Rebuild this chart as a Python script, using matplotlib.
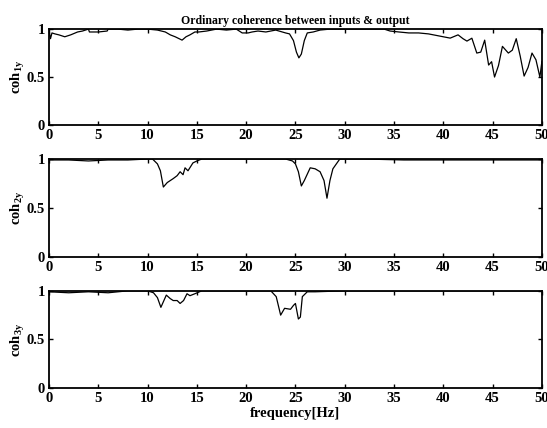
import matplotlib
matplotlib.use("Agg")
import matplotlib.pyplot as plt

# coherence readings (frequency in Hz, coherence)
f1 = [0, 0.15, 0.3, 0.6, 1.0, 1.6, 2.2, 2.9, 3.4, 4.0, 4.1, 5.0, 5.9, 6.0, 7.0, 8.0,
      9.0, 10.0, 11.0, 11.8, 12.3, 12.8, 13.2, 13.5, 13.9, 14.3, 14.8, 15.2, 16.0,
      17.0, 18.0, 19.0, 19.6, 20.2, 20.6, 21.2, 22.0, 23.0, 24.0, 24.4, 24.8,
      25.1, 25.35, 25.6, 25.9, 26.2, 26.8, 27.5, 28.5, 30.0, 32.0, 34.0, 34.6,
      35.5, 36.5, 37.5, 38.5, 39.5, 40.7, 41.5, 42.0, 42.4, 42.9, 43.4, 43.8,
      44.2, 44.6, 44.9, 45.2, 45.6, 46.0, 46.6, 47.0, 47.4, 47.8, 48.2, 48.6,
      49.0, 49.4, 49.8, 50.0]
c1 = [0.99, 0.9, 0.96, 0.95, 0.94, 0.92, 0.94, 0.97, 0.98, 1.0, 0.97, 0.97, 0.98, 1.0,
      1.0, 0.99, 1.0, 1.0, 0.99, 0.97, 0.94, 0.92, 0.9, 0.885, 0.92, 0.94, 0.97,
      0.97, 0.98, 1.0, 0.99, 1.0, 0.96, 0.96, 0.97, 0.98, 0.97, 0.99, 0.96,
      0.95, 0.88, 0.76, 0.70, 0.74, 0.88, 0.96, 0.97, 0.99, 1.0, 1.0, 1.0, 1.0,
      0.98, 0.97, 0.96, 0.96, 0.95, 0.93, 0.906, 0.94, 0.9, 0.875, 0.905, 0.75,
      0.76, 0.885, 0.625, 0.66, 0.5, 0.62, 0.82, 0.75, 0.78, 0.9, 0.72, 0.51,
      0.6, 0.75, 0.68, 0.5, 0.66]

f2 = [0, 2.0, 4.0, 6.0, 8.0, 10.0, 10.5, 11.0, 11.3, 11.6, 12.0, 12.6, 13.0, 13.3,
      13.6, 13.8, 14.1, 14.6, 15.0, 15.5, 18.0, 21.0, 24.0, 24.7, 25.0, 25.3,
      25.6, 25.9, 26.5, 27.0, 27.5, 27.9, 28.2, 28.5, 28.8, 29.5, 32.0, 36.0,
      40.0, 44.0, 48.0, 50.0]
c2 = [0.99, 0.99, 0.98, 0.99, 0.99, 1.0, 1.0, 0.95, 0.88, 0.714, 0.76, 0.8, 0.83,
      0.87, 0.84, 0.91, 0.88, 0.96, 0.98, 1.0, 1.0, 1.0, 1.0, 0.98, 0.95, 0.87,
      0.725, 0.78, 0.91, 0.9, 0.87, 0.78, 0.6, 0.78, 0.9, 1.0, 1.0, 0.99,
      0.99, 0.99, 0.99, 0.99]

f3 = [0, 2.0, 4.0, 6.0, 8.0, 10.0, 10.6, 11.0, 11.35, 11.9, 12.3, 12.6, 13.0, 13.3,
      13.65, 14.0, 14.3, 14.8, 15.5, 18.0, 21.0, 22.5, 23.05, 23.5, 23.9, 24.5,
      24.8, 25.0, 25.3, 25.5, 25.7, 26.2, 27.0, 30.0, 35.0, 40.0, 45.0, 50.0]
c3 = [0.99, 0.98, 0.99, 0.98, 1.0, 1.0, 0.98, 0.93, 0.83, 0.956, 0.92, 0.9, 0.9, 0.87,
      0.9, 0.97, 0.95, 0.97, 1.0, 1.0, 1.0, 1.0, 0.94, 0.75, 0.82, 0.81,
      0.85, 0.87, 0.71, 0.73, 0.94, 0.99, 0.99, 1.0, 1.0, 1.0, 1.0, 1.0]

xticks = list(range(0, 51, 5))
yticks = [0, 0.5, 1]
ylabels = ["coh$_{\\mathbf{1y}}$", "coh$_{\\mathbf{2y}}$", "coh$_{\\mathbf{3y}}$"]

plt.rcParams['font.family'] = ['Liberation Serif', 'DejaVu Serif']
plt.rcParams['font.weight'] = 'bold'
plt.rcParams['mathtext.fontset'] = 'custom'
plt.rcParams['mathtext.rm'] = 'Liberation Serif:bold'
plt.rcParams['mathtext.bf'] = 'Liberation Serif:bold'

fig = plt.figure(figsize=(5.47, 4.28), dpi=100)
boxes = [[0.0896, 0.708, 0.901, 0.224],
         [0.0896, 0.3995, 0.901, 0.229],
         [0.0896, 0.0935, 0.901, 0.227]]

for box, fx, cy, lab in zip(boxes, [f1, f2, f3], [c1, c2, c3], ylabels):
    ax = fig.add_axes(box)
    ax.plot(fx, cy, color='black', lw=0.9)
    ax.set_xlim(0, 50)
    ax.set_ylim(0, 1)
    ax.set_xticks(xticks)
    ax.set_yticks(yticks)
    ax.set_yticklabels(['0', '0.5', '1'])
    ax.tick_params(direction='in', length=3, width=1, top=True, right=True,
                   labelsize=10.5, pad=3)
    for s in ax.spines.values():
        s.set_linewidth(1.3)
    ax.set_ylabel(lab, fontsize=10.5, fontweight='bold', labelpad=0)
    if fx is f1:
        ax.set_title("Ordinary coherence between inputs & output",
                     fontsize=8.5, fontweight='bold', pad=4)
    if fx is f3:
        ax.set_xlabel("frequency[Hz]", fontsize=10.5, fontweight='bold', labelpad=1)

fig.savefig("out.png", dpi=100)
